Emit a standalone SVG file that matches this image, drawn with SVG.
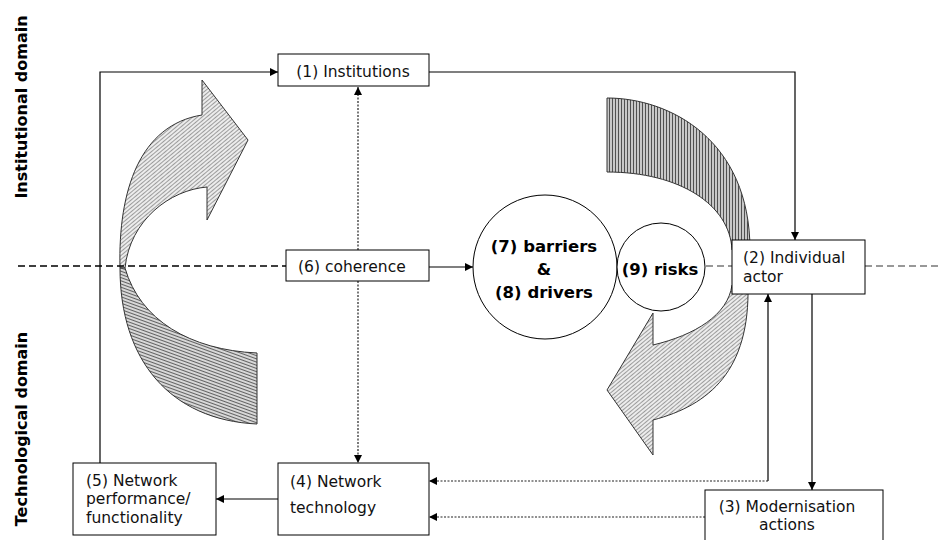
<svg xmlns="http://www.w3.org/2000/svg" width="940" height="540" viewBox="0 0 940 540">
<style>
  .box { fill: #fff; stroke: #000; stroke-width: 1; }
  .lbl { font-family: "DejaVu Sans", Verdana, sans-serif; font-size: 15.5px; fill: #111; }
  .blbl { font-family: "DejaVu Sans", Verdana, sans-serif; font-size: 16.5px; font-weight: bold; fill: #000; }
  .side { font-family: "DejaVu Sans", Verdana, sans-serif; font-size: 16px; font-weight: bold; fill: #000; }
  .conn { fill: none; stroke: #000; stroke-width: 1.2; }
  .dot { fill: none; stroke: #222; stroke-width: 1.2; stroke-dasharray: 2 1.5; }
  .circ { fill: #fff; stroke: #000; stroke-width: 1; }
  .band { stroke: #333; stroke-width: 1; }
</style>
<defs>
  <marker id="ah" viewBox="0 0 10 10" refX="10" refY="5" markerWidth="8" markerHeight="8" markerUnits="userSpaceOnUse" orient="auto">
    <path d="M0,0 L10,5 L0,10 Z" fill="#000"/>
  </marker>
  <pattern id="pLU" width="3" height="3" patternUnits="userSpaceOnUse" patternTransform="rotate(-40)">
    <rect width="3" height="3" fill="#ececec"/>
    <line x1="0" y1="0.5" x2="3" y2="0.5" stroke="#888" stroke-width="0.8"/>
  </pattern>
  <pattern id="pLL" width="3" height="3" patternUnits="userSpaceOnUse" patternTransform="rotate(20)">
    <rect width="3" height="3" fill="#d8d8d8"/>
    <line x1="0" y1="0.5" x2="3" y2="0.5" stroke="#555" stroke-width="0.9"/>
  </pattern>
  <pattern id="pRU" width="3" height="3" patternUnits="userSpaceOnUse">
    <rect width="3" height="3" fill="#c8c8c8"/>
    <line x1="0.5" y1="0" x2="0.5" y2="3" stroke="#444" stroke-width="0.9"/>
  </pattern>
  <pattern id="pRL" width="3" height="3" patternUnits="userSpaceOnUse" patternTransform="rotate(-40)">
    <rect width="3" height="3" fill="#ececec"/>
    <line x1="0" y1="0.5" x2="3" y2="0.5" stroke="#888" stroke-width="0.8"/>
  </pattern>
</defs>

<g id="domain-labels">
  <text class="side" transform="translate(27,107) rotate(-90)" text-anchor="middle">Institutional domain</text>
  <text class="side" transform="translate(27,429) rotate(-90)" text-anchor="middle">Technological domain</text>
</g>

<g id="cycle-arrows">
  <path class="band" fill="url(#pLU)" d="M120,268 C118,190 140,125 202,115 L202,80 L248,140 L207,220 L207,187 C170,190 130,220 125,268 Z"/>
  <path class="band" fill="url(#pLL)" d="M120,268 C120,360 170,420 257,424 L257,353 C190,350 140,320 125,268 Z"/>
  <path class="band" fill="url(#pRU)" d="M607,98 C670,98 750,140 750,250 L732,250 C730,205 680,172 607,172 Z"/>
  <path class="band" fill="url(#pRL)" d="M748,285 C750,370 710,405 653,420 L653,455 L607,390 L653,313 L653,345 C695,335 728,315 732,285 Z"/>
</g>

<g id="domain-divider">
  <line x1="18" y1="266" x2="286" y2="266" stroke="#000" stroke-width="1.3" stroke-dasharray="7 4"/>
  <line x1="706" y1="266" x2="732" y2="266" stroke="#777" stroke-width="1.3" stroke-dasharray="7 4"/>
  <line x1="865" y1="266" x2="940" y2="266" stroke="#777" stroke-width="1.3" stroke-dasharray="7 4"/>
</g>

<g id="connectors">
  <polyline class="conn" points="100,463 100,72 278,72" marker-end="url(#ah)"/>
  <polyline class="conn" points="429,72 795,72 795,240" marker-end="url(#ah)"/>
  <line class="dot" x1="358" y1="250" x2="358" y2="87" marker-end="url(#ah)"/>
  <line class="dot" x1="358" y1="281" x2="358" y2="463" marker-end="url(#ah)"/>
  <line class="conn" x1="429" y1="267" x2="473" y2="267" marker-end="url(#ah)"/>
  <line class="conn" x1="278" y1="499" x2="216" y2="499" marker-end="url(#ah)"/>
  <line class="conn" x1="768" y1="481" x2="768" y2="294" marker-end="url(#ah)"/>
  <line class="dot" x1="768" y1="481" x2="429" y2="481" marker-end="url(#ah)"/>
  <line class="conn" x1="812" y1="294" x2="812" y2="490" marker-end="url(#ah)"/>
  <line class="dot" x1="705" y1="517" x2="429" y2="517" marker-end="url(#ah)"/>
</g>

<g id="n1">
  <rect class="box" x="278" y="54" width="151" height="32"/>
  <text class="lbl" x="353" y="77" text-anchor="middle">(1) Institutions</text>
</g>
<g id="n6">
  <rect class="box" x="286" y="250" width="143" height="31"/>
  <text class="lbl" x="298" y="272">(6) coherence</text>
</g>
<g id="n7-8">
  <circle class="circ" cx="545" cy="267" r="72"/>
  <text class="blbl" x="544" y="252" text-anchor="middle">(7) barriers</text>
  <text class="blbl" x="544" y="275" text-anchor="middle">&amp;</text>
  <text class="blbl" x="544" y="298" text-anchor="middle">(8) drivers</text>
</g>
<g id="n9">
  <circle class="circ" cx="661" cy="267" r="44"/>
  <text class="blbl" x="660" y="275" text-anchor="middle">(9) risks</text>
</g>
<g id="n2">
  <rect class="box" x="732" y="240" width="133" height="54"/>
  <text class="lbl" x="743" y="263">(2) Individual</text>
  <text class="lbl" x="743" y="282">actor</text>
</g>
<g id="n4">
  <rect class="box" x="278" y="463" width="151" height="72"/>
  <text class="lbl" x="290" y="487">(4) Network</text>
  <text class="lbl" x="290" y="513">technology</text>
</g>
<g id="n5">
  <rect class="box" x="73" y="463" width="143" height="72"/>
  <text class="lbl" x="86" y="486">(5) Network</text>
  <text class="lbl" x="86" y="504">performance/</text>
  <text class="lbl" x="86" y="523">functionality</text>
</g>
<g id="n3">
  <rect class="box" x="705" y="490" width="178" height="56"/>
  <text class="lbl" x="787" y="512" text-anchor="middle">(3) Modernisation</text>
  <text class="lbl" x="787" y="530" text-anchor="middle">actions</text>
</g>
</svg>
